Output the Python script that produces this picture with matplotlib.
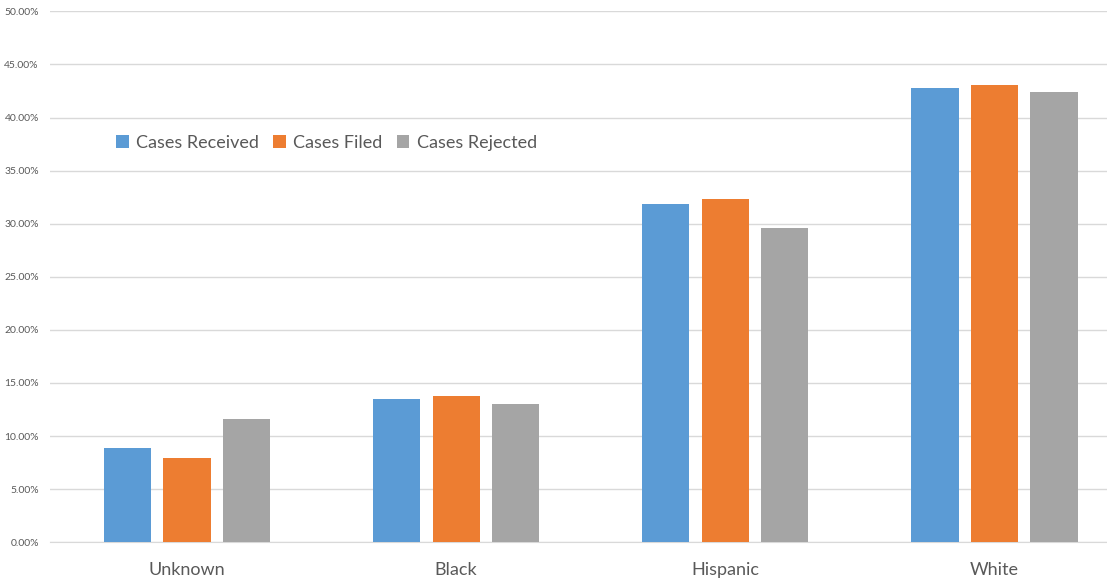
import matplotlib
matplotlib.use("Agg")
import matplotlib.pyplot as plt
from matplotlib.ticker import PercentFormatter, MultipleLocator
import numpy as np

categories = ["Unknown", "Black", "Hispanic", "White"]
cases_received = [0.0890, 0.1347, 0.3185, 0.4275]
cases_filed = [0.0790, 0.1375, 0.3233, 0.4303]
cases_rejected = [0.1160, 0.1305, 0.2962, 0.4237]

series = [
    ("Cases Received", cases_received, "#5B9BD5"),
    ("Cases Filed", cases_filed, "#ED7D31"),
    ("Cases Rejected", cases_rejected, "#A5A5A5"),
]

plt.rcParams["font.family"] = ["Lato", "DejaVu Sans"]

fig = plt.figure(figsize=(11.07, 5.82), dpi=100)
ax = fig.add_axes([50 / 1107, 39.7 / 582, 1 - 50 / 1107, 531 / 582])

x = np.arange(len(categories))
width = 0.175
step = 0.221
for i, (name, vals, col) in enumerate(series):
    ax.bar(x + (i - 1) * step, vals, width, color=col, label=name, zorder=3)

ax.set_xlim(-0.509, 3.418)
ax.set_ylim(0, 0.5)
ax.yaxis.set_major_locator(MultipleLocator(0.05))
ax.yaxis.set_major_formatter(PercentFormatter(1, decimals=2))
ax.grid(axis="y", color="#D9D9D9", linewidth=1, zorder=0)
for s in ["top", "right", "left"]:
    ax.spines[s].set_visible(False)
ax.spines["bottom"].set_color("#D9D9D9")
ax.tick_params(axis="y", length=0, labelsize=7.5, labelcolor="#595959", pad=8)
ax.tick_params(axis="x", length=0, labelsize=13, labelcolor="#595959", pad=14)
ax.set_xticks(x)
ax.set_xticklabels(categories)

fig.legend(loc="center left", bbox_to_anchor=(116 / 1107, 1 - 143 / 582),
           ncol=3, frameon=False, fontsize=13, labelcolor="#595959",
           handlelength=0.7, handleheight=0.7, handletextpad=0.4,
           columnspacing=0.8, borderaxespad=0, borderpad=0)

fig.savefig("out.png", dpi=100)
